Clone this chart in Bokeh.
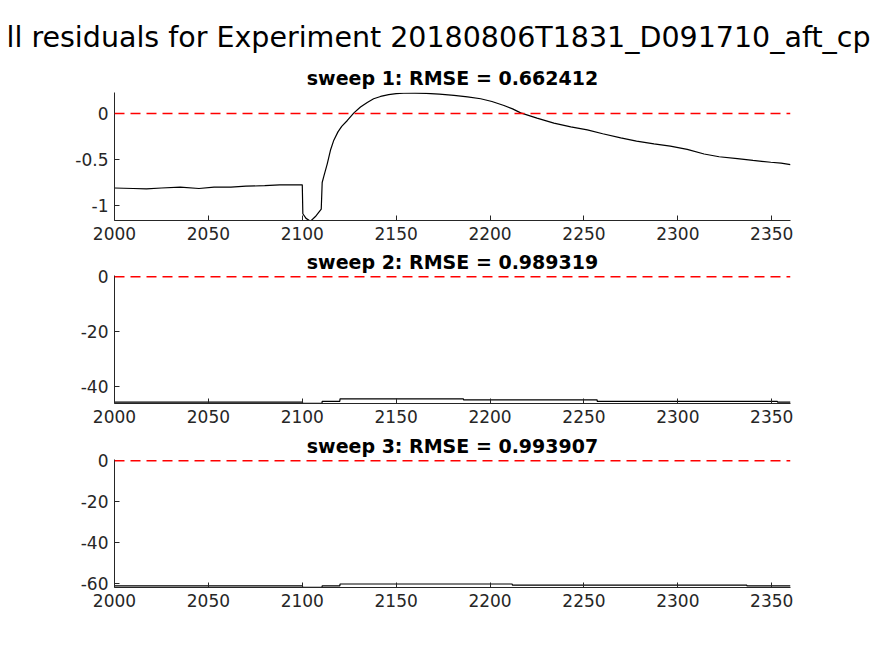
from bokeh.plotting import figure
from bokeh.models import Range1d, FixedTicker, Span, Title
from bokeh.layouts import column
from bokeh.embed import file_html
from bokeh.resources import INLINE

main_title = "ll residuals for Experiment 20180806T1831_D091710_aft_cp"
sub_titles = ["sweep 1: RMSE = 0.662412", "sweep 2: RMSE = 0.989319", "sweep 3: RMSE = 0.993907"]

x_ticks = [2000, 2050, 2100, 2150, 2200, 2250, 2300, 2350]

# sweep 1
x1 = [2000, 2010, 2017, 2025, 2035, 2045, 2053, 2062, 2070, 2080, 2088, 2095, 2100,
      2100.3, 2102, 2104.4, 2107, 2110.1, 2110.6, 2111.5, 2113.3, 2115, 2116.8, 2119,
      2121, 2124, 2127.5, 2131, 2134.6, 2138, 2141.7, 2146, 2150, 2154, 2160, 2166,
      2173, 2180.8, 2188, 2195, 2201, 2207.4, 2212, 2216.3, 2225, 2234, 2243, 2251.8,
      2260, 2269.6, 2278, 2287.3, 2296, 2305, 2314, 2322, 2331.7, 2340, 2349.5, 2355, 2360]
y1 = [-0.81, -0.815, -0.82, -0.81, -0.80, -0.815, -0.80, -0.80, -0.79, -0.785, -0.775, -0.775, -0.775,
      -1.09, -1.14, -1.17, -1.12, -1.04, -0.75, -0.68, -0.547, -0.40, -0.29, -0.20,
      -0.14, -0.076, 0.007, 0.07, 0.12, 0.16, 0.185, 0.205, 0.215, 0.22, 0.222, 0.218,
      0.21, 0.196, 0.18, 0.16, 0.13, 0.087, 0.05, 0.007, -0.05, -0.105, -0.145, -0.178,
      -0.22, -0.265, -0.30, -0.33, -0.355, -0.39, -0.44, -0.47, -0.49, -0.51, -0.53, -0.54, -0.555]

# sweep 2
x2 = [2000, 2100, 2100.3, 2110.5, 2110.6, 2120, 2120.1, 2185.8, 2185.9, 2257, 2257.1, 2353, 2353.1, 2360]
y2 = [-45.6, -45.6, -46.0, -46.0, -45.3, -45.3, -44.4, -44.4, -44.8, -44.8, -45.3, -45.3, -45.6, -45.6]

# sweep 3
x3 = [2000, 2100, 2100.3, 2110.5, 2110.6, 2120, 2120.1, 2211.8, 2211.9, 2336.7, 2336.8, 2360]
y3 = [-61.1, -61.1, -61.8, -61.8, -61.1, -61.1, -60.2, -60.2, -60.7, -60.7, -61.1, -61.1]

y_ticks = [[-1, -0.5, 0], [-40, -20, 0], [-60, -40, -20, 0]]
y_tick_labels = [{-1: "-1", -0.5: "-0.5", 0: "0"},
                 {-40: "-40", -20: "-20", 0: "0"},
                 {-60: "-60", -40: "-40", -20: "-20", 0: "0"}]
y_limits = [(-1.163, 0.228), (-46.1, 0.45), (-61.9, 0.6)]

xs = [x1, x2, x3]
ys = [y1, y2, y3]

AX = "#262626"
FONT = "DejaVu Sans"

heights = [246, 184, 226]
tops = [92, 29, 29]
bottoms = [26, 27, 69]
title_standoff = [7, 5, 5]


def sub_title(text, s):
    return Title(text=text, align="center", text_font=FONT, text_font_size="19px",
                 text_font_style="bold", text_color="black", standoff=s)


figs = []
for i in range(3):
    p = figure(width=874, height=heights[i], output_backend="svg", toolbar_location=None,
               x_range=Range1d(2000, 2360), y_range=Range1d(*y_limits[i]),
               min_border_left=114, min_border_right=84,
               min_border_top=tops[i], min_border_bottom=bottoms[i])
    if i == 0:
        p.title.text = main_title
        p.title.align = "left"
        p.title.offset = -108
        p.title.text_font = FONT
        p.title.text_font_size = "28.5px"
        p.title.text_font_style = "normal"
        p.title.text_color = "black"
        p.title.standoff = 16
        p.add_layout(sub_title(sub_titles[i], title_standoff[i]), "above")
    else:
        p.title = sub_title(sub_titles[i], title_standoff[i])
    p.outline_line_color = None
    p.grid.visible = False
    p.background_fill_color = "white"
    p.border_fill_color = "white"
    for ax in (p.xaxis[0], p.yaxis[0]):
        ax.axis_line_color = AX
        ax.major_tick_line_color = AX
        ax.major_tick_in = 5
        ax.major_tick_out = 0
        ax.minor_tick_line_color = None
        ax.major_label_text_font = FONT
        ax.major_label_text_font_size = "17px"
        ax.major_label_text_color = AX
        ax.major_label_standoff = 6
    p.xaxis.ticker = FixedTicker(ticks=x_ticks)
    p.xaxis.major_label_overrides = {t: str(t) for t in x_ticks}
    p.yaxis.ticker = FixedTicker(ticks=y_ticks[i])
    p.yaxis.major_label_overrides = y_tick_labels[i]
    p.add_layout(Span(location=0, dimension="width", line_color="#ff0000",
                      line_dash="10 6", line_width=1.4))
    p.line(xs[i], ys[i], line_color="black", line_width=1.2)
    figs.append(p)

layout = column(*figs, spacing=0)
open("out.html", "w").write(file_html(layout, INLINE))
